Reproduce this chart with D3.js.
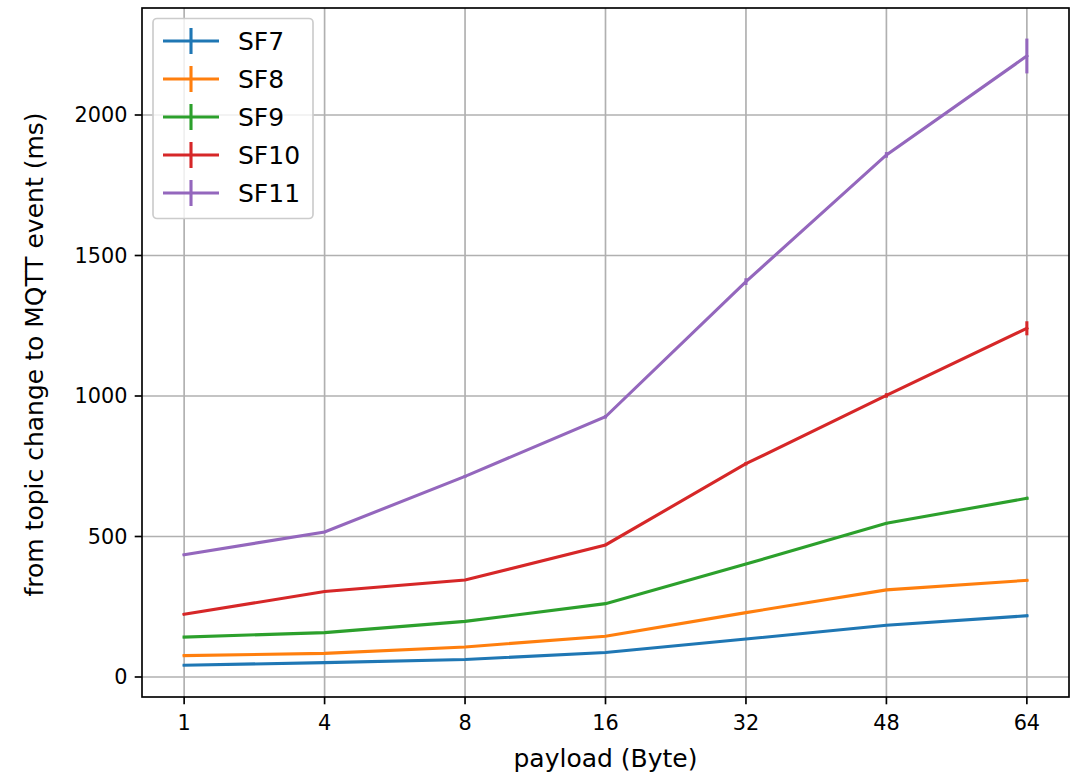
<!DOCTYPE html>
<html>
<head>
<meta charset="utf-8">
<script src="https://cdn.jsdelivr.net/npm/d3@7"></script>
<style>
  body { margin: 0; background: #fff; }
  text { font-family: "DejaVu Sans", sans-serif; }
</style>
</head>
<body>
<svg id="chart" width="1073" height="779"></svg>
<script>
const categories = ["1", "4", "8", "16", "32", "48", "64"];
const seriesNames = ["SF7", "SF8", "SF9", "SF10", "SF11"];
const colors = ["#1f77b4", "#ff7f0e", "#2ca02c", "#d62728", "#9467bd"];
const sf7 = [42, 51, 62, 87, 135, 184, 218];
const sf8 = [76, 84, 107, 145, 229, 310, 344];
const sf9 = [142, 158, 198, 261, 402, 547, 636];
const sf10 = [223, 304, 345, 470, 759, 1002, 1241];
const sf11 = [435, 516, 714, 926, 1407, 1858, 2210];
const err7 = [1, 1, 1, 1, 1, 1, 2];
const err8 = [1, 1, 1, 1, 2, 2, 3];
const err9 = [1, 1, 2, 2, 3, 4, 5];
const err10 = [2, 2, 3, 4, 6, 8, 25];
const err11 = [3, 4, 5, 6, 12, 10, 62];
const yTicks = [0, 500, 1000, 1500, 2000];

const series = [sf7, sf8, sf9, sf10, sf11];
const errs = [err7, err8, err9, err10, err11];

const svg = d3.select("#chart");
const L = 142, R = 1069, T = 8, B = 697;

const x = d3.scaleLinear().domain([-0.3, categories.length - 1 + 0.3]).range([L, R]);
const y = d3.scaleLinear().domain([-71.2, 2380.8]).range([B, T]);

const fs = 20.8;
const fsL = 25;
const gridColor = "#b0b0b0";

// grid
const g = svg.append("g");
g.selectAll("line.gx").data(categories).enter().append("line")
  .attr("x1", (d, i) => x(i)).attr("x2", (d, i) => x(i))
  .attr("y1", T).attr("y2", B)
  .attr("stroke", gridColor).attr("stroke-width", 1.67);
g.selectAll("line.gy").data(yTicks).enter().append("line")
  .attr("x1", L).attr("x2", R)
  .attr("y1", d => y(d)).attr("y2", d => y(d))
  .attr("stroke", gridColor).attr("stroke-width", 1.67);

// lines
const line = d3.line().x((d, i) => x(i)).y(d => y(d));
series.forEach((s, k) => {
  svg.append("path").datum(s).attr("d", line)
    .attr("fill", "none").attr("stroke", colors[k]).attr("stroke-width", 3.1)
    .attr("stroke-linejoin", "miter").attr("stroke-linecap", "square");
  svg.append("g").selectAll("line").data(s).enter().append("line")
    .attr("x1", (d, i) => x(i)).attr("x2", (d, i) => x(i))
    .attr("y1", (d, i) => y(d - errs[k][i])).attr("y2", (d, i) => y(d + errs[k][i]))
    .attr("stroke", colors[k]).attr("stroke-width", 3.1);
});

// spines
svg.append("rect").attr("x", L).attr("y", T).attr("width", R - L).attr("height", B - T)
  .attr("fill", "none").attr("stroke", "#000").attr("stroke-width", 1.67);

// x ticks
const xt = svg.append("g");
categories.forEach((c, i) => {
  xt.append("line").attr("x1", x(i)).attr("x2", x(i)).attr("y1", B).attr("y2", B + 7.3)
    .attr("stroke", "#000").attr("stroke-width", 1.67);
  xt.append("text").attr("x", x(i)).attr("y", 730).attr("text-anchor", "middle")
    .attr("font-size", fs).attr("fill", "#000").text(c);
});
// y ticks
yTicks.forEach(v => {
  xt.append("line").attr("x1", L - 7.3).attr("x2", L).attr("y1", y(v)).attr("y2", y(v))
    .attr("stroke", "#000").attr("stroke-width", 1.67);
  xt.append("text").attr("x", L - 14.6).attr("y", y(v)).attr("dy", "0.36em")
    .attr("text-anchor", "end").attr("font-size", fs).attr("fill", "#000").text(v);
});

// axis labels
svg.append("text").attr("x", (L + R) / 2).attr("y", 767).attr("text-anchor", "middle")
  .attr("font-size", fsL).text("payload (Byte)");
svg.append("text").attr("transform", `translate(43, ${(T + B) / 2 + 2}) rotate(-90)`)
  .attr("text-anchor", "middle").attr("font-size", fsL)
  .text("from topic change to MQTT event (ms)");

// legend
const lg = svg.append("g");
lg.append("rect").attr("x", 153).attr("y", 18.5).attr("width", 160).attr("height", 200)
  .attr("rx", 4).attr("fill", "#fff").attr("fill-opacity", 0.8)
  .attr("stroke", "#cccccc").attr("stroke-width", 1.67);
seriesNames.forEach((n, k) => {
  const cy = 41 + k * 38;
  lg.append("line").attr("x1", 163).attr("x2", 219).attr("y1", cy).attr("y2", cy)
    .attr("stroke", colors[k]).attr("stroke-width", 3.1);
  lg.append("line").attr("x1", 191).attr("x2", 191).attr("y1", cy - 13).attr("y2", cy + 13)
    .attr("stroke", colors[k]).attr("stroke-width", 3.1);
  lg.append("text").attr("x", 238).attr("y", cy).attr("dy", "0.36em")
    .attr("font-size", fsL).attr("fill", "#000").text(n);
});
</script>
</body>
</html>
